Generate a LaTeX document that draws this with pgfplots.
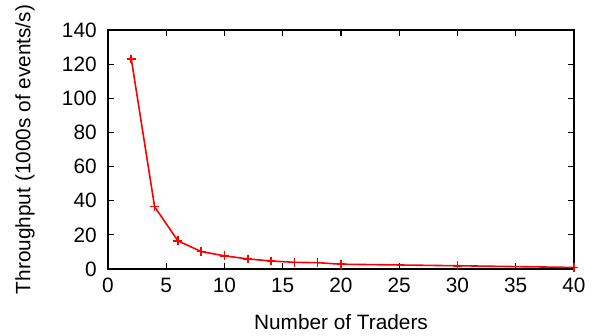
\documentclass[border=0pt]{standalone}
\usepackage{fontspec}
\setmainfont{Liberation Sans}
\usepackage{pgfplots}
\pgfplotsset{compat=1.18}
\begin{document}
\fontsize{10.4}{12.5}\selectfont
\begin{tikzpicture}
\useasboundingbox (-54pt,-33.5pt) rectangle (244pt,134.5pt);
\begin{axis}[
  at={(0,0)}, anchor=south west,
  scale only axis, width=233pt, height=119.5pt,
  xmin=0, xmax=40, ymin=0, ymax=140,
  xtick={0,5,...,40}, ytick={0,20,...,140},
  tick align=inside, tick pos=both,
  major tick length=3pt,
  axis line style={line width=0.6pt, black},
  every tick/.style={line width=0.6pt, black},
  /pgf/number format/assume math mode=true,
  ticklabel style={font=\fontsize{10.4}{12.5}\selectfont},
  label style={font=\fontsize{10.4}{12.5}\selectfont},
  xlabel={Number of Traders},
  ylabel={Throughput (1000s of events/s)},
  xlabel style={at={(axis description cs:0.5,-0.222)}, anchor=center},
  ylabel style={at={(axis description cs:-0.178,0.5)}, anchor=center, rotate=0},
  yticklabel style={xshift=-2pt},
  xticklabel style={yshift=-1pt},
]
\addplot[red, line width=0.8pt, mark=+, mark size=2.2pt, mark options={line width=0.8pt}] coordinates {
(2,123) (4,36.5) (6,16.5) (8,10.2) (10,7.7) (12,5.9) (14,4.7) (16,3.9) (18,3.7) (20,2.8) (30,1.9) (40,0.9)
};
\end{axis}
\end{tikzpicture}
\end{document}
